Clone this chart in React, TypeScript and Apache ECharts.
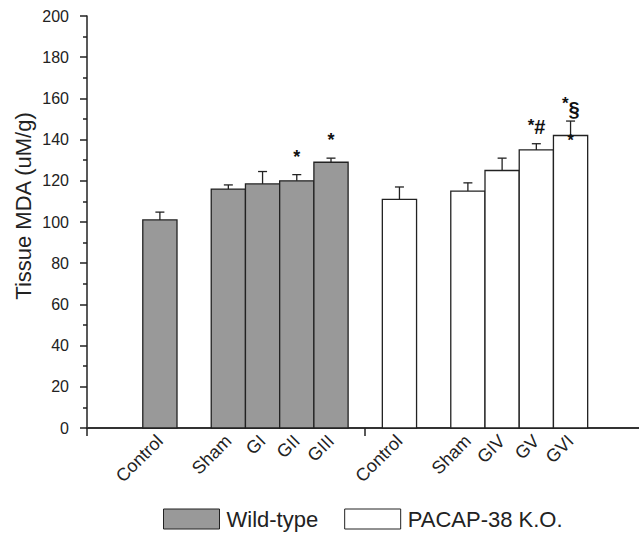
import React, { useEffect, useRef } from "react";
import * as echarts from "echarts";

// ---- data ----
const wtCategories = ["Control", "Sham", "GI", "GII", "GIII"];
const wtPositions = [0, 2, 3, 4, 5];
const wtValues = [101, 116, 118.5, 120, 129];
const wtErrors = [3.8, 2, 6, 3, 2];
const wtStars = ["", "", "", "*", "*"];
const wtSymbols = ["", "", "", "", ""];
const wtInnerStars = ["", "", "", "", ""];

const koCategories = ["Control", "Sham", "GIV", "GV", "GVI"];
const koPositions = [7, 9, 10, 11, 12];
const koValues = [111, 115, 125, 135, 142];
const koErrors = [6, 4, 6, 3, 7];
const koStars = ["", "", "", "*", "*"];
const koSymbols = ["", "", "", "#", "§"];
const koInnerStars = ["", "", "", "", "*"];

const yTicks = [0, 20, 40, 60, 80, 100, 120, 140, 160, 180, 200];
const gapTick = 6;
const X_MIN = -2.13;
const X_MAX = 14;

const FONT = "'Liberation Sans', Arial, Helvetica, sans-serif";
const labelMap: Record<number, string> = {};
wtPositions.forEach((p, i) => (labelMap[p] = wtCategories[i]));
koPositions.forEach((p, i) => (labelMap[p] = koCategories[i]));

function makeRender(fill: string, stars: string[], symbols: string[], inner: string[]) {
  return (params: any, api: any) => {
    const i = params.dataIndex;
    const x = api.value(0);
    const y = api.value(1);
    const err = api.value(2);
    const base = api.coord([x, 0]);
    const top = api.coord([x, y]);
    const et = api.coord([x, y + err]);
    const bw = api.size([1, 0])[0];
    const children: any[] = [
      {
        type: "rect",
        shape: { x: top[0] - bw / 2, y: top[1], width: bw, height: base[1] - top[1] },
        style: { fill, stroke: "#222", lineWidth: 1.3 },
      },
      {
        type: "line",
        shape: { x1: top[0], y1: top[1], x2: et[0], y2: et[1] },
        style: { stroke: "#222", lineWidth: 1.3 },
      },
      {
        type: "line",
        shape: { x1: et[0] - 4.5, y1: et[1], x2: et[0] + 4.5, y2: et[1] },
        style: { stroke: "#222", lineWidth: 1.3 },
      },
    ];
    const star = stars[i];
    const sym = symbols[i];
    if (star && !sym) {
      children.push({
        type: "text",
        x: et[0],
        y: et[1] - 18,
        style: { text: star, fontSize: 18, fontWeight: "bold", fontFamily: FONT, fill: "#111", align: "center", verticalAlign: "middle" },
      });
    } else if (star && sym) {
      const symOffset = sym === "§" ? 12.5 : 16.5;
      children.push({
        type: "text",
        x: et[0] - 2,
        y: et[1] - 18,
        style: { text: star, fontSize: 17, fontWeight: "bold", fontFamily: FONT, fill: "#111", align: "right", verticalAlign: "middle" },
      });
      children.push({
        type: "text",
        x: et[0] - 2,
        y: et[1] - symOffset,
        style: { text: sym, fontSize: 20, fontWeight: "bold", fontFamily: FONT, fill: "#111", align: "left", verticalAlign: "middle" },
      });
    }
    if (inner[i]) {
      children.push({
        type: "text",
        x: top[0],
        y: top[1] + 5,
        style: { text: inner[i], fontSize: 16, fontWeight: "bold", fontFamily: FONT, fill: "#111", align: "center", verticalAlign: "middle" },
      });
    }
    return { type: "group", children };
  };
}

export default function App() {
  const ref = useRef<HTMLDivElement>(null);
  useEffect(() => {
    if (!ref.current) return;
    const chart = echarts.init(ref.current, undefined, { renderer: "svg" });
    const option: any = {
      animation: false,
      backgroundColor: "#fff",
      grid: { left: 87, right: 0, top: 16, bottom: 105 },
      xAxis: {
        type: "value",
        min: X_MIN,
        max: X_MAX,
        splitLine: { show: false },
        axisLine: { onZero: false, lineStyle: { color: "#333", width: 2 } },
        axisTick: { customValues: [X_MIN, gapTick], length: 8, lineStyle: { color: "#222", width: 1.5 } },
        axisLabel: {
          customValues: [...wtPositions, ...koPositions],
          formatter: (v: number) => labelMap[Math.round(v)] ?? "",
          rotate: 45,
          fontSize: 18,
          margin: 10,
          color: "#222",
          fontFamily: FONT,
        },
      },
      yAxis: {
        type: "value",
        min: 0,
        max: 200,
        interval: 20,
        splitLine: { show: false },
        axisLine: { show: true, onZero: false, lineStyle: { color: "#222", width: 1.5 } },
        axisTick: { show: true, length: 7, lineStyle: { color: "#222", width: 1.5 } },
        minorTick: { show: true, splitNumber: 2, length: 4, lineStyle: { color: "#222", width: 1.5 } },
        axisLabel: {
          fontSize: 16,
          margin: 18,
          color: "#222",
          fontFamily: FONT,
          customValues: yTicks,
        },
      },
      legend: {
        left: 158,
        top: 503,
        itemWidth: 56,
        itemHeight: 20,
        itemGap: 26,
        textStyle: { fontSize: 22, color: "#222", fontFamily: FONT, padding: [0, 0, 0, 2] },
        data: [
          { name: "Wild-type", icon: "rect", itemStyle: { color: "#999", borderColor: "#222", borderWidth: 1 } },
          { name: "PACAP-38 K.O.", icon: "rect", itemStyle: { color: "#fff", borderColor: "#222", borderWidth: 1 } },
        ],
      },
      graphic: [
        {
          type: "text",
          x: 23,
          y: 206,
          rotation: Math.PI / 2,
          style: {
            text: "Tissue MDA (uM/g)",
            fontSize: 22,
            fontFamily: FONT,
            fill: "#222",
            align: "center",
            verticalAlign: "middle",
          },
        },
      ],
      series: [
        {
          name: "Wild-type",
          type: "custom",
          itemStyle: { color: "#999", borderColor: "#222" },
          renderItem: makeRender("#999999", wtStars, wtSymbols, wtInnerStars),
          encode: { x: 0, y: [1, 2] },
          data: wtPositions.map((p, i) => [p, wtValues[i], wtErrors[i]]),
        },
        {
          name: "PACAP-38 K.O.",
          type: "custom",
          itemStyle: { color: "#fff", borderColor: "#222" },
          renderItem: makeRender("#ffffff", koStars, koSymbols, koInnerStars),
          encode: { x: 0, y: [1, 2] },
          data: koPositions.map((p, i) => [p, koValues[i], koErrors[i]]),
        },
      ],
    };
    chart.setOption(option);
    return () => chart.dispose();
  }, []);
  return <div ref={ref} style={{ width: 639, height: 533, position: "absolute", left: 0, top: 0 }} />;
}
